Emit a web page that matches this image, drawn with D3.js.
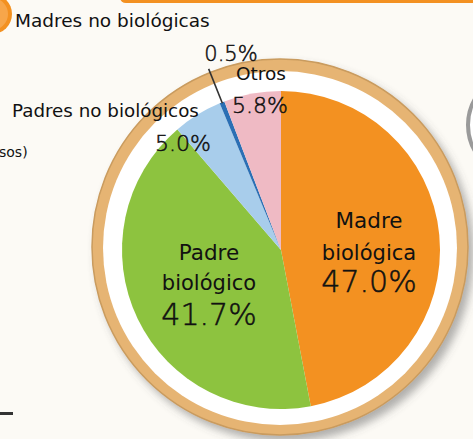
<!DOCTYPE html>
<html>
<head>
<meta charset="utf-8">
<script src="https://cdn.jsdelivr.net/npm/d3@7"></script>
<style>
  body { margin: 0; background: #fcfaf5; }
  svg { display: block; }
  .lbl { font-family: "DejaVu Sans", sans-serif; fill: #111; }
  .pct { font-family: "DejaVu Sans", sans-serif; font-weight: 200; fill: #111; stroke: #111; stroke-width: 0.5; }
</style>
</head>
<body>
<svg id="chart"></svg>
<script>
const categories = ['Madre biológica', 'Padre biológico', 'Padres no biológicos', 'Madres no biológicas', 'Otros']
const values = [47.0, 41.7, 5.0, 0.5, 5.8]
const colors = ['#f39121', '#8dc33f', '#a8cdeb', '#2b6fb4', '#efbac4']

const width = 473
const height = 439
const cx = 281
const cy = 250
const radius = 159

const svg = d3.select('#chart')
  .attr('width', width)
  .attr('height', height)

const defs = svg.append('defs')
defs.append('filter')
  .attr('id', 'shadow')
  .attr('x', '-20%').attr('y', '-20%').attr('width', '140%').attr('height', '140%')
  .append('feDropShadow')
  .attr('dx', 5).attr('dy', 6)
  .attr('stdDeviation', 4)
  .attr('flood-color', '#555')
  .attr('flood-opacity', 0.45)

// bits of neighbouring panels
svg.append('rect')
  .attr('x', 120).attr('y', -8)
  .attr('width', 380).attr('height', 11)
  .attr('rx', 6)
  .attr('fill', '#f39121')
svg.append('circle')
  .attr('cx', -8).attr('cy', 14).attr('r', 20)
  .attr('fill', '#f39121')
svg.append('circle')
  .attr('cx', -8).attr('cy', 14).attr('r', 16)
  .attr('fill', '#f7a64a')
svg.append('circle')
  .attr('cx', 520).attr('cy', 125).attr('r', 52)
  .attr('fill', '#fff')
  .attr('stroke', '#9a9a9a')
  .attr('stroke-width', 4)
svg.append('rect')
  .attr('x', 0).attr('y', 412)
  .attr('width', 13).attr('height', 3)
  .attr('fill', '#333')

// plate rings
svg.append('circle')
  .attr('cx', cx - 1).attr('cy', cy - 3)
  .attr('r', 188)
  .attr('fill', '#e6b473')
  .attr('stroke', '#c99b5e')
  .attr('stroke-width', 1.5)
  .attr('filter', 'url(#shadow)')
svg.append('circle')
  .attr('cx', cx - 1).attr('cy', cy - 2)
  .attr('r', 177)
  .attr('fill', '#ffffff')

const pie = d3.pie().sort(null).value(d => d)
const arc = d3.arc().innerRadius(0).outerRadius(radius)

const g = svg.append('g').attr('transform', `translate(${cx}, ${cy})`)
g.selectAll('path')
  .data(pie(values))
  .enter()
  .append('path')
  .attr('d', arc)
  .attr('fill', (d, i) => colors[i])

// leader for the thin slice
const thin = pie(values)[3]
const midA = (thin.startAngle + thin.endAngle) / 2
const rIn = radius - 1
const rOut = radius + 36
g.append('line')
  .attr('x1', Math.sin(midA) * rIn).attr('y1', -Math.cos(midA) * rIn)
  .attr('x2', Math.sin(midA) * rOut).attr('y2', -Math.cos(midA) * rOut)
  .attr('stroke', '#333')
  .attr('stroke-width', 1.6)

// text
const texts = [
  { t: 'Madres no biológicas', x: 15, y: 27, s: 18.5, c: 'lbl', a: 'start' },
  { t: 'Padres no biológicos', x: 12, y: 117, s: 18.3, c: 'lbl', a: 'start' },
  { t: 'sos)', x: -1, y: 157, s: 14, c: 'lbl', a: 'start' },
  { t: '0.5%', x: 231, y: 61, s: 21, c: 'pct', a: 'middle' },
  { t: 'Otros', x: 261, y: 80, s: 18.5, c: 'lbl', a: 'middle' },
  { t: values[4].toFixed(1) + '%', x: 260, y: 113, s: 22, c: 'pct', a: 'middle' },
  { t: values[2].toFixed(1) + '%', x: 183, y: 151, s: 22, c: 'pct', a: 'middle' },
  { t: 'Madre', x: 369, y: 228, s: 21.5, c: 'lbl', a: 'middle' },
  { t: 'biológica', x: 369, y: 260, s: 21, c: 'lbl', a: 'middle' },
  { t: values[0].toFixed(1) + '%', x: 369, y: 292, s: 30, c: 'pct', a: 'middle' },
  { t: 'Padre', x: 209, y: 260, s: 21.5, c: 'lbl', a: 'middle' },
  { t: 'biológico', x: 209, y: 290, s: 21, c: 'lbl', a: 'middle' },
  { t: values[1].toFixed(1) + '%', x: 209, y: 325, s: 30, c: 'pct', a: 'middle' }
]
svg.selectAll('text.item')
  .data(texts)
  .enter()
  .append('text')
  .attr('class', d => 'item ' + d.c)
  .attr('x', d => d.x)
  .attr('y', d => d.y)
  .attr('font-size', d => d.s)
  .attr('text-anchor', d => d.a)
  .text(d => d.t)
</script>
</body>
</html>
